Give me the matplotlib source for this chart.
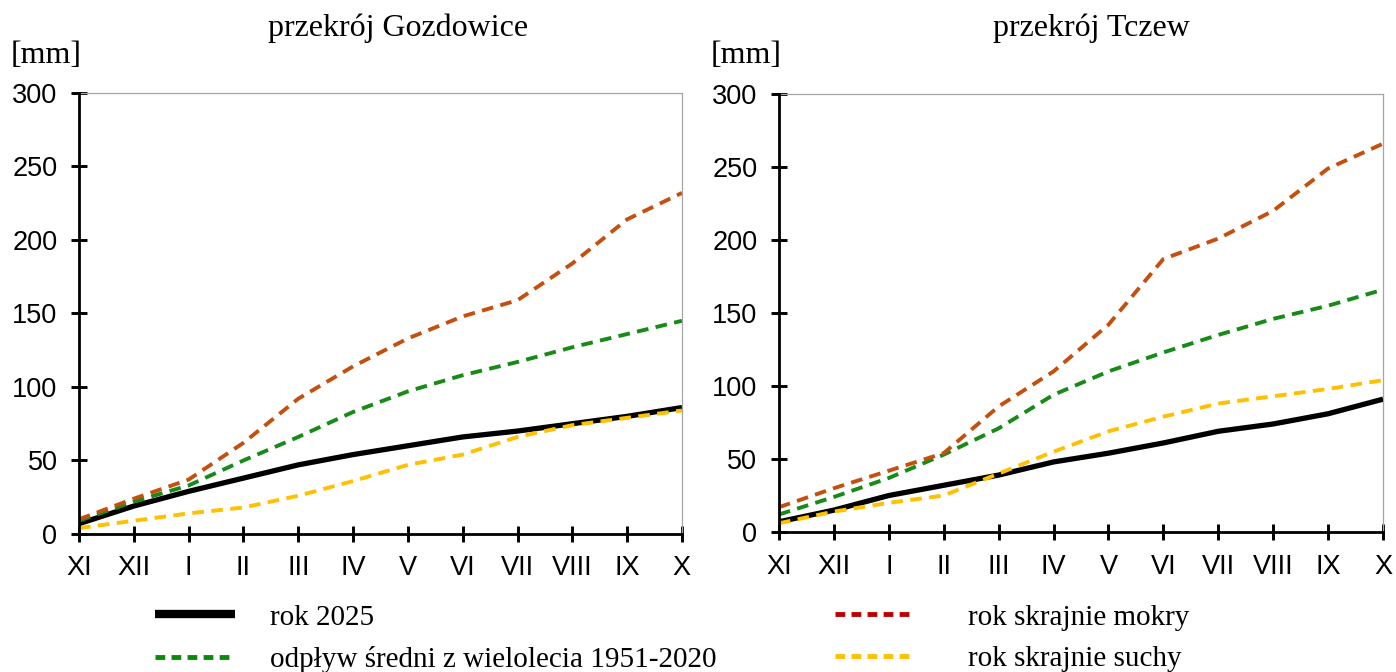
import matplotlib
matplotlib.use("Agg")
import matplotlib.pyplot as plt
from matplotlib.lines import Line2D

# -----------------------------
# Data: cumulative runoff [mm], hydrological year XI-X
# -----------------------------
months = ["XI", "XII", "I", "II", "III", "IV", "V", "VI", "VII", "VIII", "IX", "X"]

gozd_2025 = [7, 19, 29, 38, 47, 54, 60, 66, 70, 75, 80, 86]
gozd_mean = [9, 22, 33, 50, 66, 83, 97, 108, 117, 127, 136, 145]
gozd_wet = [10, 24, 37, 62, 92, 114, 133, 148, 159, 184, 214, 232]
gozd_dry = [4, 9, 14, 18, 26, 36, 47, 54, 66, 74, 79, 84]

tczew_2025 = [7, 15, 25, 32, 39, 48, 54, 61, 69, 74, 81, 91]
tczew_mean = [12, 24, 37, 53, 71, 94, 110, 123, 135, 146, 155, 166]
tczew_wet = [17, 30, 42, 54, 86, 110, 142, 187, 201, 220, 249, 266]
tczew_dry = [6, 14, 20, 25, 40, 55, 69, 79, 88, 93, 98, 104]

labels = ["rok 2025", "odpływ średni z wielolecia 1951-2020",
          "rok skrajnie mokry", "rok skrajnie suchy"]

# -----------------------------
# Styling
# -----------------------------
SERIF = "Liberation Serif"
SANS = "Liberation Sans"
c_black = "black"
c_green = "#178A17"
c_wet = "#C4500F"
c_dry = "#FFC000"
dash = (3.0, 1.9)

fig = plt.figure(figsize=(13.96, 6.72), dpi=100)
ax1 = fig.add_axes([0.0566, 0.2054, 0.4319, 0.6563])
ax2 = fig.add_axes([0.5580, 0.2083, 0.4327, 0.6518])

panels = [
    (ax1, "przekrój Gozdowice", 0.285, gozd_2025, gozd_mean, gozd_wet, gozd_dry),
    (ax2, "przekrój Tczew", 0.7815, tczew_2025, tczew_mean, tczew_wet, tczew_dry),
]

x = list(range(len(months)))
for ax, title, tx, s25, smean, swet, sdry in panels:
    ax.plot(x, s25, color=c_black, lw=3.8, solid_capstyle="butt", zorder=3)
    ax.plot(x, smean, color=c_green, lw=2.8, dashes=dash, zorder=4)
    ax.plot(x, swet, color=c_wet, lw=2.8, dashes=dash, zorder=4)
    ax.plot(x, sdry, color=c_dry, lw=2.8, dashes=dash, zorder=5)

    ax.set_xlim(0, 11)
    ax.set_ylim(0, 300)
    ax.set_xticks(x)
    ax.set_xticklabels(months)
    ax.set_yticks(range(0, 301, 50))
    ax.tick_params(direction="inout", length=11, width=2.1, pad=10,
                   labelsize=19.5, colors="black")
    for lab in ax.get_xticklabels() + ax.get_yticklabels():
        lab.set_fontfamily(SANS)

    for side in ("left", "bottom"):
        ax.spines[side].set_linewidth(2.0)
        ax.spines[side].set_color("black")
        ax.spines[side].set_zorder(6)
    for side in ("top", "right"):
        ax.spines[side].set_linewidth(0.9)
        ax.spines[side].set_color("#A6A6A6")
    for sp in ax.spines.values():
        sp.set_clip_on(False)

    fig.text(tx, 0.958, title, family=SERIF, fontsize=23,
             ha="center", va="center")
    pos = ax.get_position()
    fig.text(pos.x0 - 0.049, 0.918, "[mm]", family=SERIF, fontsize=23,
             ha="left", va="center")

# -----------------------------
# Legend (two columns under the panels)
# -----------------------------
h_2025 = Line2D([], [], color=c_black, lw=6, solid_capstyle="butt")
h_mean = Line2D([], [], color="#0A8A0A", lw=3.5, dashes=(2.0, 1.3))
h_wet = Line2D([], [], color="#C00000", lw=3.5, dashes=(2.0, 1.3))
h_dry = Line2D([], [], color=c_dry, lw=3.5, dashes=(2.0, 1.3))

leg_kw = dict(frameon=False, loc="upper left", borderpad=0, borderaxespad=0,
              handlelength=2.75, labelspacing=0.52,
              prop={"family": SERIF, "size": 21})
fig.legend([h_2025, h_mean], labels[:2], handletextpad=1.2,
           bbox_to_anchor=(0.111, 0.101), **leg_kw)
fig.legend([h_wet, h_dry], labels[2:], handletextpad=1.82,
           bbox_to_anchor=(0.598, 0.101), **leg_kw)

fig.savefig("out.png", dpi=100)
